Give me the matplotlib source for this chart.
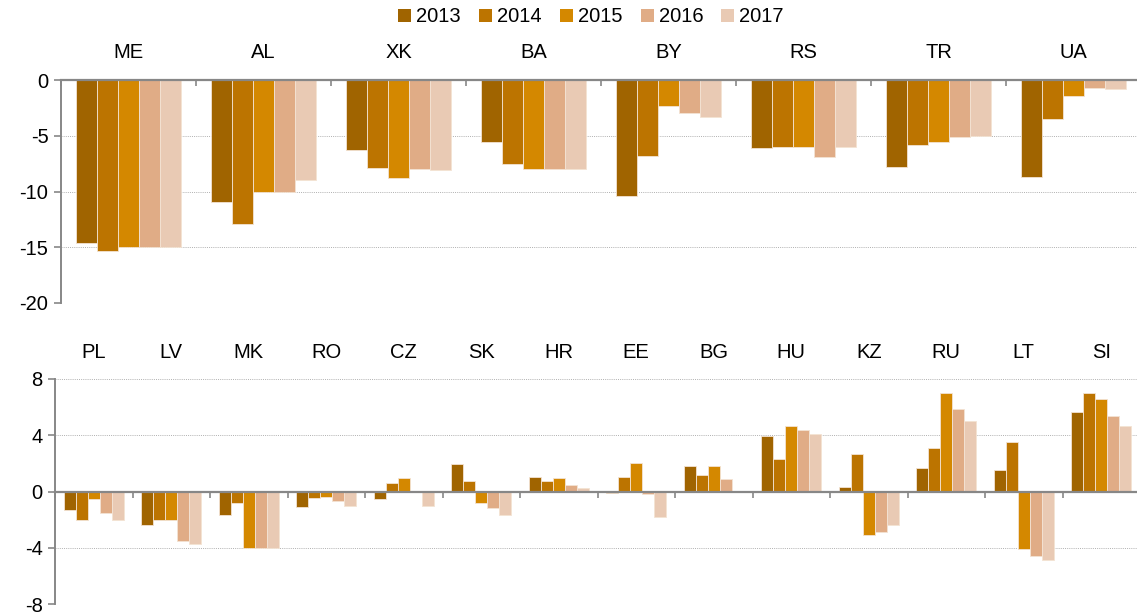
import numpy as np
import matplotlib.pyplot as plt
from matplotlib.patches import Patch

plt.rcParams['font.family'] = ['Liberation Sans', 'DejaVu Sans']
plt.rcParams['axes.unicode_minus'] = False

# ---- data ----
years = ['2013', '2014', '2015', '2016', '2017']
colors = ['#a06400', '#bc7400', '#d48800', '#e0ac86', '#e9cab4']

top_countries = ['ME', 'AL', 'XK', 'BA', 'BY', 'RS', 'TR', 'UA']
top_2013 = [-14.6, -10.9, -6.3, -5.6, -10.4, -6.1, -7.8, -8.7]
top_2014 = [-15.3, -12.9, -7.9, -7.5, -6.8, -6.0, -5.8, -3.5]
top_2015 = [-15.0, -10.0, -8.75, -8.0, -2.35, -6.0, -5.6, -1.4]
top_2016 = [-15.0, -10.0, -8.0, -8.0, -3.0, -6.95, -5.15, -0.75]
top_2017 = [-15.0, -9.0, -8.1, -8.0, -3.35, -6.0, -5.0, -0.85]

bot_countries = ['PL', 'LV', 'MK', 'RO', 'CZ', 'SK', 'HR', 'EE', 'BG', 'HU',
                 'KZ', 'RU', 'LT', 'SI']
bot_2013 = [-1.3, -2.4, -1.65, -1.1, -0.55, 1.95, 1.0, -0.1, 1.8, 3.98,
            0.35, 1.65, 1.55, 5.65]
bot_2014 = [-2.0, -2.0, -0.8, -0.45, 0.6, 0.75, 0.78, 1.03, 1.17, 2.3,
            2.7, 3.1, 3.55, 6.97]
bot_2015 = [-0.5, -2.0, -4.0, -0.4, 0.96, -0.8, 0.96, 2.0, 1.78, 4.68,
            -3.1, 6.98, -4.12, 6.6]
bot_2016 = [-1.5, -3.5, -4.0, -0.7, 0.0, -1.2, 0.48, -0.2, 0.9, 4.4,
            -2.9, 5.9, -4.6, 5.38]
bot_2017 = [-2.0, -3.7, -4.0, -1.0, -1.0, -1.7, 0.28, -1.8, 0.0, 4.12,
            -2.4, 5.0, -4.9, 4.68]

top_data = [top_2013, top_2014, top_2015, top_2016, top_2017]
bot_data = [bot_2013, bot_2014, bot_2015, bot_2016, bot_2017]

GRAY = '#878787'
FS = 14.5


def draw_panel(ax, countries, series, ylim, yticks, label_y):
    n = len(countries)
    x = np.arange(n)
    w = 0.155
    for i, vals in enumerate(series):
        ax.bar(x + (i - 2) * w, vals, width=w, color=colors[i],
               edgecolor='#f3e3d3', linewidth=0.6, zorder=3)
    ax.set_xlim(-0.5, n - 0.5)
    ax.set_ylim(*ylim)
    ax.set_yticks(yticks)
    ax.set_xticks(np.arange(n + 1) - 0.5)
    ax.set_xticklabels([])
    ax.tick_params(axis='x', length=4, width=1.2, color=GRAY, direction='out')
    ax.tick_params(axis='y', length=5, width=1.2, color=GRAY, labelsize=FS,
                   pad=4)
    ax.yaxis.grid(True, linestyle=(0, (1, 1.2)), color='#b0b0b0',
                  linewidth=0.7, zorder=0)
    for s in ['top', 'right']:
        ax.spines[s].set_visible(False)
    ax.spines['bottom'].set_position(('data', 0))
    ax.spines['bottom'].set_color(GRAY)
    ax.spines['bottom'].set_linewidth(1.6)
    ax.spines['bottom'].set_zorder(4)
    ax.spines['left'].set_color(GRAY)
    ax.spines['left'].set_linewidth(1.4)
    for xi, c in zip(x, countries):
        ax.text(xi, label_y, c, transform=ax.get_xaxis_transform(),
                ha='center', va='center', fontsize=FS)


fig = plt.figure(figsize=(11.37, 6.16), dpi=100)
W, H = 1137, 616

ax1 = fig.add_axes([61 / W, 1 - 303 / H, 1080 / W, 223 / H])
draw_panel(ax1, top_countries, top_data, (-20, 0), [0, -5, -10, -15, -20],
           1 + 27 / 223)

ax2 = fig.add_axes([55 / W, 1 - 604 / H, 1085 / W, 225 / H])
draw_panel(ax2, bot_countries, bot_data, (-8, 8), [8, 4, 0, -4, -8],
           1 + 27 / 225)

handles = [Patch(facecolor=c, edgecolor='none') for c in colors]
fig.legend(handles, years, loc='center', bbox_to_anchor=(591 / W, 1 - 17 / H),
           ncol=5, frameon=False, fontsize=FS, handlelength=0.65,
           handleheight=0.65, handletextpad=0.25, columnspacing=0.9)

fig.savefig('out.png', dpi=100)
